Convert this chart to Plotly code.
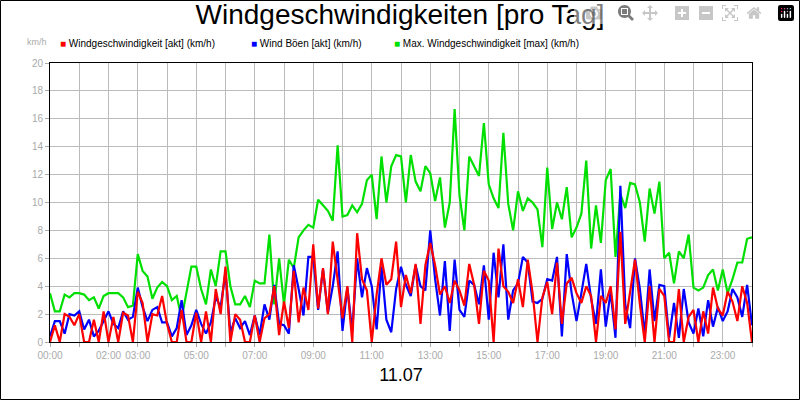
import plotly.graph_objects as go

# 10-minute samples, hour by hour
max_wind = [3.5,2.2,2.2,3.4,3.2,3.5, 3.5,3.4,3.0,3.2,2.4,3.3, 3.5,3.5,3.5,3.2,2.5,2.6,
            6.3,5.1,4.7,3.1,3.9,4.3, 4.0,3.0,3.3,1.7,3.6,5.4, 5.4,3.8,2.7,5.2,4.0,6.5,
            6.5,4.0,2.7,2.7,3.3,2.5, 4.4,4.2,4.2,7.7,2.7,6.0, 2.7,5.9,5.3,7.5,8.0,8.4,
            8.2,10.2,9.8,9.4,8.7,14.1, 9.0,9.1,9.8,9.3,9.9,11.6, 12.0,8.8,13.3,10.0,12.6,13.4,
            13.3,10.0,13.4,11.5,10.8,12.6, 12.1,10.1,11.8,8.2,10.0,16.7, 10.5,8.0,13.3,12.6,11.9,15.7,
            11.3,10.3,9.6,15.0,9.9,8.0, 10.8,9.4,10.3,10.0,9.5,6.8, 12.5,8.1,10.0,8.8,11.1,7.5,
            8.2,9.2,13.0,6.7,9.8,7.1, 11.6,12.4,6.1,10.6,9.6,11.4, 11.3,10.0,7.2,11.0,9.2,11.5,
            6.0,6.4,4.2,6.5,6.0,7.7, 3.9,3.7,3.9,4.8,5.2,3.7, 5.2,3.5,4.5,5.7,5.7,7.4, 7.5]
gust = [0.4,1.5,1.5,0.6,2.0,1.9, 2.2,0.9,1.6,0.4,0.8,1.5, 2.2,1.3,1.0,2.2,1.6,1.8,
        3.9,2.5,1.5,2.3,2.5,1.4, 1.4,0.4,1.0,3.0,0.5,1.2, 2.3,1.3,0.6,1.4,3.2,2.5,
        5.0,0.7,1.7,1.0,1.5,0.5, 1.9,0.5,2.7,1.6,4.1,1.3, 1.2,0.6,5.5,3.8,1.9,6.1,
        6.1,2.3,5.2,2.1,4.0,6.5, 0.8,3.9,0.8,6.0,3.2,5.3, 4.0,0.9,5.4,1.6,0.7,3.8,
        5.4,4.1,3.3,5.5,4.0,3.7, 8.0,4.5,1.9,5.8,0.8,5.9, 2.3,1.8,4.4,4.1,2.7,5.5,
        1.6,6.4,3.2,7.0,1.6,3.7, 4.2,6.1,5.7,2.9,2.8,3.1, 4.5,4.4,6.1,0.4,6.3,3.5,
        1.5,3.5,5.6,3.1,1.3,5.2, 1.1,3.6,0.3,11.2,2.7,1.0, 6.0,3.8,0.5,5.2,1.5,4.1,
        4.0,0.3,2.8,0.3,3.8,1.4, 0.6,2.4,0.4,3.0,1.1,2.5, 1.5,2.2,3.8,3.2,1.8,4.1, 1.2]
wind = [0,1.2,0,2.0,1.8,1.2, 2.0,0,0,1.6,0,2.2, 0,1.8,0,2.1,1.9,0,
        3.6,2.8,0,2.0,1.9,3.3, 1.3,0,0,2.3,0,0, 2.1,0,2.2,0,3.8,2.0,
        5.4,0,2.0,1.6,0,0, 1.9,0,1.7,2.0,4.0,0.5, 2.9,1.0,5.1,1.4,3.9,2.3,
        7.0,2.4,5.3,2.0,7.2,4.6, 1.7,4.0,0,7.8,4.5,3.7, 0,3.4,6.0,4.1,4.5,7.2,
        2.5,4.8,3.5,5.6,1.3,5.5, 7.1,5.5,3.4,4.0,2.8,4.4, 3.7,2.6,5.6,4.1,1.3,5.1,
        4.4,0,6.7,4.0,3.6,2.8, 4.5,2.5,5.9,3.5,0,3.2, 4.3,2.0,5.7,1.3,4.2,4.6,
        3.5,2.8,4.0,3.3,0,3.3, 2.8,4.0,0.9,7.9,1.3,3.6, 5.9,2.7,0,4.0,0,3.8,
        3.3,0,0,3.8,0,1.8, 2.3,0,2.2,0.6,3.9,2.4, 1.9,3.6,2.9,1.5,4.0,2.8, 0]
hours = [i / 6 for i in range(len(max_wind))]

tick_hours = list(range(0, 25))
label_map = {0: "00:00", 2: "02:00", 3: "03:00", 5: "05:00", 7: "07:00", 9: "09:00",
             11: "11:00", 13: "13:00", 15: "15:00", 17: "17:00", 19: "19:00",
             21: "21:00", 23: "23:00"}
tick_text = [label_map.get(h, "") for h in tick_hours]

names = ["Windgeschwindigkeit [akt] (km/h)", "Wind Böen [akt] (km/h)",
         "Max. Windgeschwindigkeit [max] (km/h)"]
colors = ["#ff0000", "#0000ff", "#00e000"]

fig = go.Figure()
for y, c, n in [(max_wind, colors[2], names[2]), (gust, colors[1], names[1]), (wind, colors[0], names[0])]:
    fig.add_trace(go.Scatter(x=hours, y=y, mode="lines", line=dict(color=c, width=2.2), name=n))

fig.update_layout(
    width=800, height=400, showlegend=False,
    paper_bgcolor="white", plot_bgcolor="white",
    margin=dict(l=50, r=48, t=63, b=58),
    font=dict(family="Liberation Sans, Arial, sans-serif"),
    title=dict(text="Windgeschwindigkeiten [pro Tag]", x=0.5, xanchor="center",
               y=0.99, yanchor="top", font=dict(size=28, color="black")),
    xaxis=dict(range=[0, 24], tickvals=tick_hours, ticktext=tick_text,
               showgrid=True, gridcolor="#bbbbbb", gridwidth=1,
               tickfont=dict(size=10, color="#aaaaaa"), ticks="outside", ticklen=4,
               tickcolor="#aaaaaa", showline=True, linecolor="black", mirror=True,
               title=dict(text="11.07", font=dict(size=18, color="black"), standoff=8),
               zeroline=False),
    yaxis=dict(range=[0, 20], dtick=2, showgrid=True, gridcolor="#bbbbbb",
               tickfont=dict(size=10, color="#aaaaaa"), ticks="outside", ticklen=4,
               tickcolor="#aaaaaa", showline=True, linecolor="black", mirror=True,
               zeroline=False),
)
fig.add_shape(type="rect", xref="paper", yref="paper", x0=-49.5/702, x1=1+47.5/702,
              y0=-57.5/279, y1=1+62.5/279, line=dict(color="black", width=1))
fig.add_annotation(text="km/h", xref="paper", yref="paper", x=-13/702, y=1+14/279,
                   showarrow=False, xanchor="center", yanchor="bottom",
                   font=dict(size=9, color="#aaaaaa"))
legend_x = [58, 249, 392]
for lx, n, c in zip(legend_x, names, colors):
    fig.add_annotation(text=f'<span style="color:{c}">■</span> {n}', xref="paper", yref="paper",
                       x=(lx - 50) / 702, y=1 + 19/279, showarrow=False,
                       xanchor="left", yanchor="middle", font=dict(size=10, color="black"))
fig.write_html("out.html", post_script="document.body.style.margin='0';")
